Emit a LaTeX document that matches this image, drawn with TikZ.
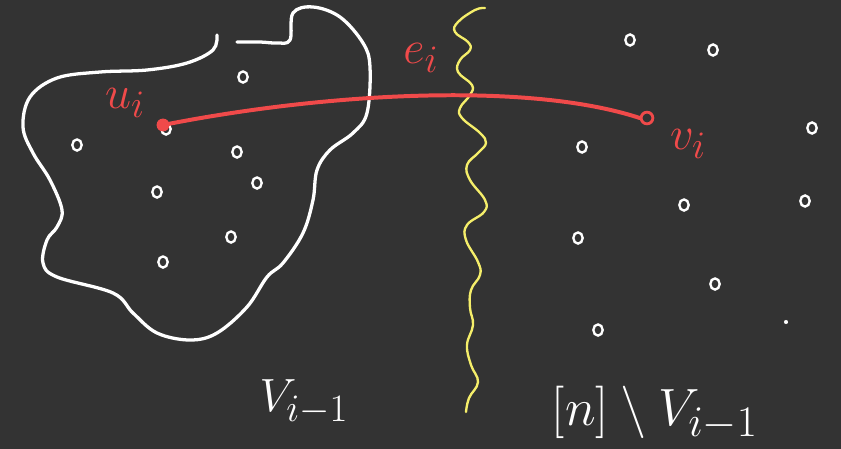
\documentclass[tikz,border=0pt]{standalone}
\usepackage{graphicx}
\usetikzlibrary{shapes.geometric}
\definecolor{board}{HTML}{333333}
\definecolor{chalkred}{HTML}{F04A4A}
\definecolor{chalkyellow}{HTML}{F5EE6A}
\begin{document}
\begin{tikzpicture}[x=0.03cm,y=-0.03cm,
  chalk/.style={white, line width=2.8pt, line cap=round, line join=round},
  redline/.style={chalkred, line width=3.4pt, line cap=round},
  wave/.style={chalkyellow, line width=2pt, line cap=round, line join=round},
  vtx/.style={ellipse, draw=white, line width=2pt, minimum width=8pt, minimum height=9.5pt, inner sep=0pt},
  redlab/.style={text=chalkred, font=\Huge},
  whitelab/.style={text=white, font=\Huge}]
\fill[board] (0,0) rectangle (841,449);
\useasboundingbox (0,0) rectangle (841,449);
% blob V_{i-1}
\draw[chalk] plot[smooth, tension=0.6] coordinates {
 (217,35) (213,50) (187,63) (147,70) (100,72) (57,78) (30,97) (23,127) (33,153) (50,180)
 (62,210) (57,227) (47,240) (43,263) (57,277) (113,293) (133,313) (157,333) (190,340)
 (217,333) (247,307) (267,277) (283,263) (303,233) (313,200) (317,170) (330,150)
 (353,133) (367,113) (370,67) (363,43) (340,17) (313,7) (293,13) (290,40) (277,43)
 (260,42) (237,42)};
% vertices left
\node[vtx] (a1) at (243,77) {};
\node[vtx] (a2) at (77,145) {};
\node[vtx] (a3) at (237,152) {};
\node[vtx] (a4) at (157,192) {};
\node[vtx] (a5) at (257,183) {};
\node[vtx] (a6) at (231,237) {};
\node[vtx] (a7) at (163,262) {};
\node[vtx] (a0) at (166,129) {};
% vertices right
\node[vtx] (b1) at (630,40) {};
\node[vtx] (b2) at (713,50) {};
\node[vtx] (b3) at (582,147) {};
\node[vtx] (b4) at (812,128) {};
\node[vtx] (b5) at (684,205) {};
\node[vtx] (b6) at (805,201) {};
\node[vtx] (b7) at (578,238) {};
\node[vtx] (b8) at (715,284) {};
\node[vtx] (b9) at (598,330) {};
\node[circle, fill=white, inner sep=0pt, minimum size=3.5pt] (b10) at (786,322) {};
% yellow cut
\draw[wave] plot[smooth, tension=0.7] coordinates {
 (485,8) (475,10) (458,22) (455,32) (468,42) (470,50) (460,60) (458,72) (472,85)
 (470,95) (460,108) (462,118) (480,133) (486,143) (478,153) (467,165) (470,180)
 (485,200) (484,212) (467,225) (466,240) (478,262) (480,275) (471,290) (470,308)
 (473,325) (467,345) (471,365) (478,382) (469,398) (466,412)};
% red edge
\node[circle, fill=chalkred, inner sep=0pt, minimum size=11pt] (ui) at (163,125) {};
\node[circle, draw=chalkred, line width=2.4pt, inner sep=0pt, minimum size=10pt] (vi) at (647,118) {};
\draw[redline] (ui.center) .. controls (330,92) and (530,82) .. (vi.west);
% labels
\node[redlab] (lu) at (125,103) {\scalebox{1.6}{$u_i$}};
\node[redlab] (le) at (421,58) {\scalebox{1.6}{$e_i$}};
\node[redlab] (lv) at (688,144) {\scalebox{1.6}{$v_i$}};
\node[whitelab] (lV) at (304,402) {\scalebox{1.6}{$V_{i-1}$}};
\node[whitelab] (lR) at (655,413) {\scalebox{1.8}{$[n]\setminus V_{i-1}$}};
\end{tikzpicture}
\end{document}
